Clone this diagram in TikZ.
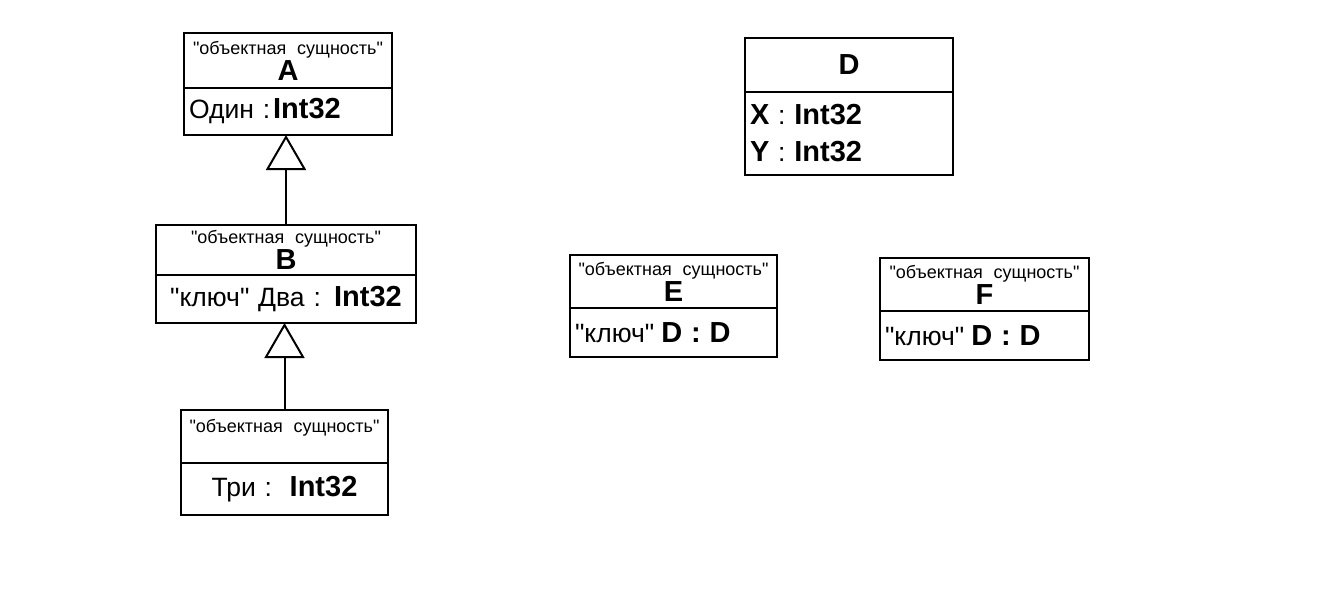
\documentclass[tikz,border=0pt]{standalone}
\usepackage{fontspec}
\setmainfont{Liberation Sans}
\usetikzlibrary{arrows.meta, positioning}

\newcommand{\qq}[1]{\textquotedbl#1\textquotedbl}
\newcommand{\stereo}{\qq{объектная\hspace{0.6em}сущность}}
\newcommand{\cname}[1]{{\fontsize{29}{29}\selectfont\bfseries #1}}
\newcommand{\typ}[1]{{\fontsize{29}{37}\selectfont\bfseries #1}}

\begin{document}
\begin{tikzpicture}[
    x=1pt, y=-1pt,
    head/.style={draw, line width=2pt, inner sep=0pt, outer sep=0pt, anchor=north west, align=center, font=\fontsize{18}{26}\selectfont},
    attrs/.style={draw, line width=2pt, inner xsep=5pt, inner ysep=0pt, outer sep=0pt, font=\fontsize{26.5}{37}\selectfont},
    inherit/.style={-{Triangle[open, length=35pt, width=40pt]}, line width=2pt},
]
\useasboundingbox (0,0) rectangle (1320,600);

% Entity A
\node[head, minimum width=208pt, minimum height=55pt] (Ahead) at (184,33) {\stereo\\\cname{A}};
\node[attrs, below=0pt of Ahead, text width=198pt, minimum height=47pt, align=left] (Abody) {Один :\hspace{3pt}\typ{Int32}};

% Entity B
\node[head, minimum width=260pt, minimum height=50pt] (Bhead) at (156,225) {\stereo\\\cname{B}};
\node[attrs, below=0pt of Bhead, text width=250pt, minimum height=48pt, align=center] (Bbody) {\qq{ключ} Два : \typ{Int32}};

% Entity C (no name)
\node[head, minimum width=207pt, minimum height=53pt] (Chead) at (181,410) {\stereo\\[-6pt]\phantom{\cname{C}}};
\node[attrs, below=0pt of Chead, text width=197pt, minimum height=52pt, align=center] (Cbody) {Три :\ \ \typ{Int32}};

% Type D
\node[head, minimum width=208pt, minimum height=54pt] (Dhead) at (745,38) {\cname{D}};
\node[attrs, below=0pt of Dhead, text width=198pt, minimum height=83pt, align=left] (Dbody) {\typ{X} : \typ{Int32}\\\typ{Y} : \typ{Int32}};

% Entities E and F
\node[head, minimum width=207pt, minimum height=53pt] (Ehead) at (570,255) {\stereo\\\cname{E}};
\node[attrs, below=0pt of Ehead, text width=197pt, minimum height=49pt, align=left] (Ebody) {\qq{ключ}\hspace{7pt}\typ{D : D}};
\node[head, minimum width=209pt, minimum height=53pt] (Fhead) at (880,258) {\stereo\\\cname{F}};
\node[attrs, below=0pt of Fhead, text width=199pt, minimum height=49pt, align=left] (Fbody) {\qq{ключ}\hspace{7pt}\typ{D : D}};

% Inheritance
\draw[inherit] (Bhead.north) -- (Bhead.north |- Abody.south);
\draw[inherit] (Chead.north) -- (Chead.north |- Bbody.south);
\end{tikzpicture}
\end{document}
